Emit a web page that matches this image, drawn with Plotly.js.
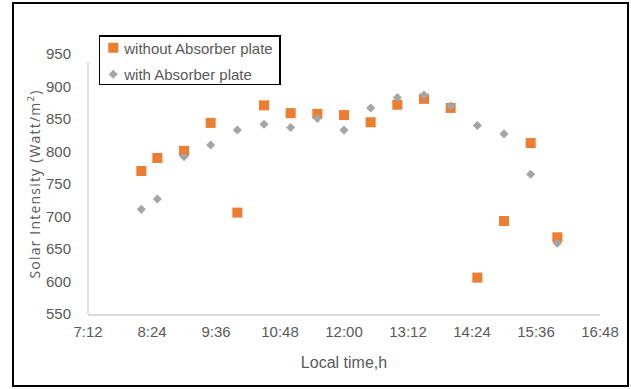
<!DOCTYPE html>
<html>
<head>
<meta charset="utf-8">
<script src="https://cdn.plot.ly/plotly-3.0.1.min.js"></script>
<style>
  html, body { margin: 0; padding: 0; background: #fff; }
  #chart { width: 631px; height: 389px; }
  .ytitle { letter-spacing: 1.2px; }
</style>
</head>
<body>
<div id="chart"></div>
<script>
// Local time of measurement (hh:mm)
const times = ["08:12","08:30","09:00","09:30","10:00","10:30","11:00","11:30","12:00",
               "12:30","13:00","13:30","14:00","14:30","15:00","15:30","16:00"];
// Solar intensity (Watt/m2)
const withoutAbsorber = [770, 790, 801, 844, 706, 871, 859, 858, 856, 845, 872, 881, 867, 606, 693, 813, 668];
const withAbsorber    = [711, 727, 792, 810, 833, 842, 837, 851, 833, 867, 883, 887, 870, 840, 827, 765, 659];
const seriesNames = ["without Absorber plate", "with Absorber plate"];
const yTicks = [550, 600, 650, 700, 750, 800, 850, 900, 950];

const day = "2000-01-01 ";
const xs = times.map(t => day + t + ":00");

const sans = "Liberation Sans, Arial, sans-serif";
const tickFont = {family: sans, size: 15, color: "#595959"};

const traces = [
  {
    x: xs, y: withoutAbsorber, name: seriesNames[0], type: "scatter", mode: "markers",
    legendgroup: "a",
    marker: {symbol: "square", size: 10, color: "#ED7D31"}
  },
  {
    x: xs, y: withAbsorber, name: seriesNames[1], type: "scatter", mode: "markers",
    legendgroup: "b",
    marker: {symbol: "diamond", size: 7, color: "#A5A5A5"}
  }
];

const layout = {
  width: 631, height: 389,
  margin: {l: 88, r: 31, t: 54, b: 75},
  paper_bgcolor: "#ffffff", plot_bgcolor: "#ffffff",
  showlegend: true,
  legend: {
    x: 0.021, y: 1.073, xanchor: "left", yanchor: "top",
    bordercolor: "#000000", borderwidth: 1.5, bgcolor: "#ffffff",
    font: {family: sans, size: 15, color: "#595959"},
    traceorder: "grouped", tracegroupgap: 4
  },
  xaxis: {
    type: "date",
    range: [day + "07:12:00", day + "16:48:00"],
    tick0: day + "07:12:00", dtick: 72 * 60 * 1000,
    tickformat: "%-H:%M",
    showgrid: false, zeroline: false,
    showline: true, linecolor: "#d9d9d9", linewidth: 1.5,
    ticks: "", ticklabelstandoff: 3,
    tickfont: tickFont,
    title: {text: "Local time,h", font: {family: sans, size: 16, color: "#595959"}, standoff: 18}
  },
  yaxis: {
    range: [550, 950],
    tickvals: yTicks, ticktext: yTicks.map(String),
    showgrid: false, zeroline: false, showline: false,
    ticks: "", ticklabelstandoff: 16,
    tickfont: tickFont,
    title: {text: "Solar Intensity (Watt/m<sup>2</sup>)", font: {family: "Open Sans, sans-serif", size: 14, color: "#595959"}, standoff: 2}
  },
  shapes: [
    {type: "line", xref: "paper", yref: "y", x0: 0, x1: 0, y0: 550, y1: 938,
     line: {color: "#d9d9d9", width: 1.5}},
    {type: "rect", xref: "paper", yref: "paper",
     x0: -0.1465, x1: 1.0547, y0: -0.277, y1: 1.196,
     line: {color: "#000000", width: 2}}
  ]
};

Plotly.newPlot("chart", traces, layout, {staticPlot: true, displayModeBar: false}).then(gd => {
  // tighten legend to match the reference box: symbol/text nearer the left edge, shorter box
  const legend = gd.querySelector(".legend");
  if (!legend) return;
  const shiftText = 16, shiftPts = 7, shiftUp = 5, trimH = 12;
  legend.querySelectorAll(".traces").forEach(tr => {
    const txt = tr.querySelector("text.legendtext");
    if (txt) txt.setAttribute("x", parseFloat(txt.getAttribute("x") || 40) - shiftText);
    const pts = tr.querySelector(".legendpoints");
    if (pts) pts.setAttribute("transform", "translate(" + (-shiftPts) + ",0)");
  });
  const sb = legend.querySelector(".scrollbox");
  if (sb) sb.setAttribute("transform", "translate(0," + (-shiftUp) + ")");
  const bg = legend.querySelector("rect.bg");
  if (bg) {
    bg.setAttribute("width", parseFloat(bg.getAttribute("width")) - shiftText);
    bg.setAttribute("height", parseFloat(bg.getAttribute("height")) - trimH);
  }
});
</script>
</body>
</html>
